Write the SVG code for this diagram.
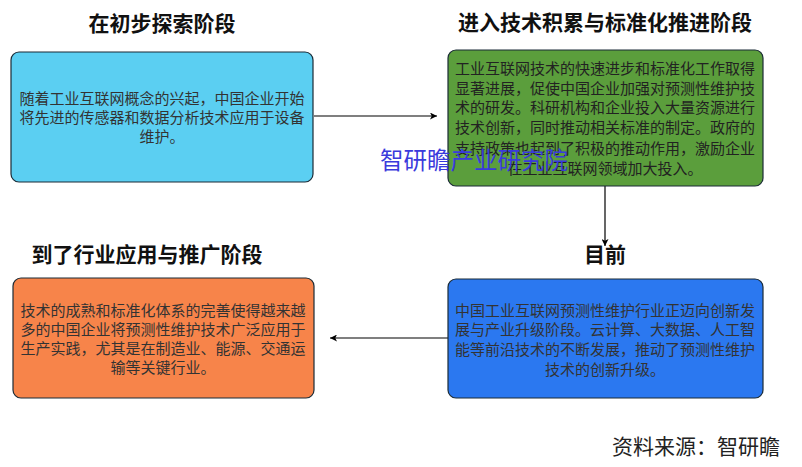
<svg xmlns="http://www.w3.org/2000/svg" width="802" height="467" viewBox="0 0 802 467">
<defs>
<marker id="ah" viewBox="0 0 10 10" refX="10" refY="5" markerWidth="7" markerHeight="7" orient="auto" markerUnits="userSpaceOnUse">
<path d="M0,0 L10,5 L0,10 L2.5,5 Z" fill="#000"/>
</marker>
<style>
.t{font-family:"Noto Sans CJK SC","Liberation Sans",sans-serif;font-size:21px;font-weight:bold;fill:#111;text-anchor:middle;}
.b{font-family:"Noto Sans CJK SC","Liberation Sans",sans-serif;font-size:15px;fill:#333;text-anchor:middle;}
.g{fill:#222;}
.box{stroke:#1b2b36;stroke-width:1.2;}
.c{stroke:#000;stroke-width:1.2;fill:none;marker-end:url(#ah);}
</style>
</defs>
<rect width="802" height="467" fill="#fff"/>
<g id="connectors">
<line class="c" x1="314" y1="116" x2="437" y2="116"/>
<line class="c" x1="605" y1="186" x2="605" y2="246"/>
<line class="c" x1="448" y1="338" x2="330" y2="338"/>
</g>
<g id="node1">
<text class="t" x="162" y="31">在初步探索阶段</text>
<rect class="box" x="11" y="52" width="302" height="130" rx="8" fill="#5bcff2"/>
<text class="b" x="162" y="104">随着工业互联网概念的兴起，中国企业开始</text>
<text class="b" x="162" y="123">将先进的传感器和数据分析技术应用于设备</text>
<text class="b" x="162" y="142">维护。</text>
</g>
<g id="node2">
<text class="t" x="605" y="30">进入技术积累与标准化推进阶段</text>
<rect class="box" x="448" y="50" width="315" height="136" rx="8" fill="#5b9e3c"/>
<text class="b g" x="605" y="74">工业互联网技术的快速进步和标准化工作取得</text>
<text class="b g" x="605" y="94">显著进展，促使中国企业加强对预测性维护技</text>
<text class="b g" x="605" y="113">术的研发。科研机构和企业投入大量资源进行</text>
<text class="b g" x="605" y="133">技术创新，同时推动相关标准的制定。政府的</text>
<text class="b g" x="605" y="154">支持政策也起到了积极的推动作用，激励企业</text>
<text class="b g" x="605" y="174">在工业互联网领域加大投入。</text>
</g>
<g id="node3">
<text class="t" x="147" y="262">到了行业应用与推广阶段</text>
<rect class="box" x="13" y="278" width="301" height="120" rx="8" fill="#f7844a"/>
<text class="b" x="163" y="316">技术的成熟和标准化体系的完善使得越来越</text>
<text class="b" x="163" y="335">多的中国企业将预测性维护技术广泛应用于</text>
<text class="b" x="163" y="354">生产实践，尤其是在制造业、能源、交通运</text>
<text class="b" x="163" y="373">输等关键行业。</text>
</g>
<g id="node4">
<text class="t" x="605" y="262">目前</text>
<rect class="box" x="448" y="279" width="315" height="119" rx="8" fill="#2b78f0"/>
<text class="b" x="605" y="316">中国工业互联网预测性维护行业正迈向创新发</text>
<text class="b" x="605" y="335">展与产业升级阶段。云计算、大数据、人工智</text>
<text class="b" x="605" y="355">能等前沿技术的不断发展，推动了预测性维护</text>
<text class="b" x="605" y="375">技术的创新升级。</text>
</g>
<text x="380" y="169" style="font-family:'Noto Sans CJK SC',sans-serif;font-size:23.5px;fill:#3a3adc">智研瞻产业研究院</text>
<text x="780" y="454" style="font-family:'Noto Sans CJK SC',sans-serif;font-size:21px;fill:#222;text-anchor:end">资料来源：智研瞻</text>
</svg>
